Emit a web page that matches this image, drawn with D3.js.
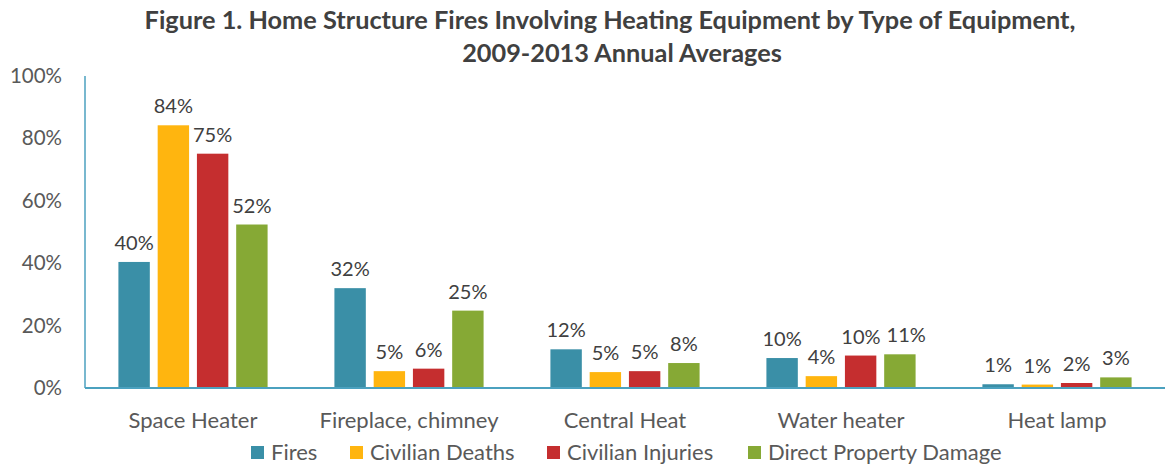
<!DOCTYPE html>
<html>
<head>
<meta charset="utf-8">
<script src="https://cdn.jsdelivr.net/npm/d3@7"></script>
<style>
  body { margin: 0; background: #fff; }
  svg text { font-family: Lato, "Open Sans", sans-serif; }
</style>
</head>
<body>
<div id="chart"></div>
<script>
// Figure 1 – home structure fires involving heating equipment
const categories = ['Space Heater', 'Fireplace, chimney', 'Central Heat', 'Water heater', 'Heat lamp'];
const seriesNames = ['Fires', 'Civilian Deaths', 'Civilian Injuries', 'Direct Property Damage'];
const fires    = [0.404, 0.32, 0.124, 0.096, 0.012];
const deaths   = [0.842, 0.054, 0.051, 0.038, 0.011];
const injuries = [0.751, 0.062, 0.054, 0.104, 0.016];
const damage   = [0.524, 0.248, 0.080, 0.108, 0.034];
const yTicks = [0, 0.2, 0.4, 0.6, 0.8, 1];

const COLORS = ['#3a8fa7', '#ffb50f', '#c52e2f', '#86a935'];

const W = 1170, H = 465;
const M = { top: 76, left: 85, right: 5, bottom: 77 };
const seriesValues = [fires, deaths, injuries, damage];
const pct = d3.format('.0%');

const svg = d3.select('#chart').append('svg').attr('width', W).attr('height', H);

// title
svg.append('text').attr('x', 610).attr('y', 29).attr('text-anchor', 'middle')
  .attr('fill', '#404040').style('font-size', '25.3px').style('font-weight', 'bold')
  .text('Figure 1. Home Structure Fires Involving Heating Equipment by Type of Equipment,');
svg.append('text').attr('x', 622).attr('y', 62).attr('text-anchor', 'middle')
  .attr('fill', '#404040').style('font-size', '25.3px').style('font-weight', 'bold')
  .text('2009-2013 Annual Averages');

const x0 = d3.scaleBand().domain(categories).range([M.left, W - M.right]).paddingInner(0.273).paddingOuter(0.1365);
const x1 = d3.scaleBand().domain(seriesNames).range([0, x0.bandwidth()]).paddingInner(0.2).paddingOuter(0.1);
const y = d3.scaleLinear().domain([0, 1]).range([H - M.bottom, M.top]);

// y tick labels
const yAxis = svg.append('g').attr('transform', `translate(${M.left},0)`)
  .call(d3.axisLeft(y).tickValues(yTicks).tickFormat(pct).tickSize(0).tickPadding(23));
yAxis.select('.domain').remove();
yAxis.selectAll('text').attr('fill', '#595959').style('font-size', '20.5px').style('font-family', 'Lato, sans-serif');

// bars
const groups = svg.append('g').selectAll('g').data(categories).join('g')
  .attr('transform', d => `translate(${x0(d)},0)`);

const cells = (c, ci) => seriesNames.map((s, si) => ({ s, si, v: seriesValues[si][ci] }));

groups.selectAll('rect').data(cells).join('rect')
  .attr('x', d => x1(d.s)).attr('width', x1.bandwidth())
  .attr('y', d => y(d.v)).attr('height', d => y(0) - y(d.v))
  .attr('fill', d => COLORS[d.si]);

groups.each(function (c, ci) {
  const labels = d3.select(this).selectAll('text').data(cells(c, ci)).join('text')
    .attr('x', d => x1(d.s) + x1.bandwidth() / 2)
    .attr('y', d => y(d.v) - 12)
    .attr('text-anchor', 'middle').attr('fill', '#404040').style('font-size', '20px')
    .text(d => pct(d.v));
  // nudge a label right if it runs into the one before it at a similar height
  let prev = null;
  labels.each(function () {
    const b = this.getBBox();
    if (prev && Math.abs(prev.y - b.y) < b.height && b.x < prev.x + prev.width + 6) {
      const dx = prev.x + prev.width + 6 - b.x;
      d3.select(this).attr('x', +d3.select(this).attr('x') + dx);
      b.x += dx;
    }
    prev = b;
  });
});

// axis lines
svg.append('line').attr('x1', M.left).attr('x2', M.left).attr('y1', y(1)).attr('y2', y(0))
  .attr('stroke', '#4ba1bf').attr('stroke-width', 1.5);
svg.append('line').attr('x1', M.left).attr('x2', W - M.right).attr('y1', y(0)).attr('y2', y(0))
  .attr('stroke', '#4ba1bf').attr('stroke-width', 2);

// category labels
svg.append('g').selectAll('text').data(categories).join('text')
  .attr('x', d => x0(d) + x0.bandwidth() / 2).attr('y', y(0) + 40)
  .attr('text-anchor', 'middle').attr('fill', '#595959').style('font-size', '22px')
  .text(d => d);

// legend
const legendX = [251, 350, 547, 748];
const legend = svg.append('g').selectAll('g').data(seriesNames).join('g')
  .attr('transform', (d, i) => `translate(${legendX[i]},446)`);
legend.append('rect').attr('width', 13).attr('height', 13).attr('fill', (d, i) => COLORS[i]);
legend.append('text').attr('x', 20).attr('y', 14).attr('fill', '#595959').style('font-size', '22px').text(d => d);
</script>
</body>
</html>
